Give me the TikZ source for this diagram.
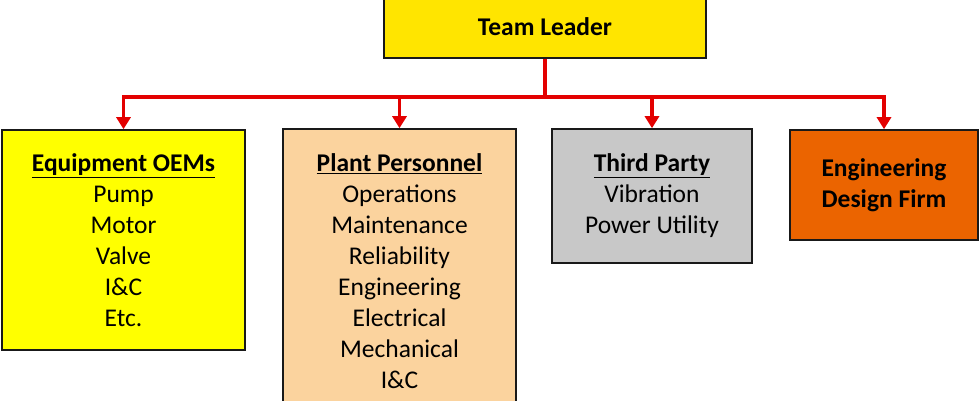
\documentclass[tikz,border=0pt]{standalone}
\usepackage{fontspec}
\setmainfont{Carlito}
\usepackage{tikz}
\usetikzlibrary{positioning,arrows.meta,calc}
\definecolor{leadfill}{HTML}{FFE500}
\definecolor{oemfill}{HTML}{FFFF00}
\definecolor{staffill}{HTML}{FBD39E}
\definecolor{thirdfill}{HTML}{C8C8C8}
\definecolor{firmfill}{HTML}{EB6400}
\definecolor{linkred}{HTML}{E30000}
\newcommand{\grouphead}[1]{\underline{\textbf{#1}}}

\begin{document}
\begin{tikzpicture}[
    x=1pt, y=-1pt,
    box/.style={draw=black!90, line width=1.6pt, align=center, inner sep=0pt, font=\fontsize{25.5}{31}\selectfont},
    link/.style={-{Triangle[length=12pt, width=14pt]}, line width=3.8pt, draw=linkred, line join=miter}
]
    \useasboundingbox (0,0) rectangle (980,400);

    % Leader on top
    \node[box, fill=leadfill, minimum width=322, minimum height=62, font=\fontsize{25.5}{31}\selectfont\bfseries] (lead) at (545,27) {Team Leader};

    % Groups below
    \node[box, fill=oemfill, minimum width=243, minimum height=220] (oem) at (123.5,240)
        {\grouphead{Equipment OEMs}\\Pump\\Motor\\Valve\\I\&C\\Etc.};
    \node[box, fill=staffill, minimum width=233, minimum height=284] (staff) at (399.5,271)
        {\grouphead{Plant Personnel}\\Operations\\Maintenance\\Reliability\\Engineering\\Electrical\\Mechanical\\I\&C};
    \node[box, fill=thirdfill, minimum width=200, minimum height=134] (third) at (652,196)
        {\grouphead{Third Party}\\Vibration\\Power Utility};
    \node[box, fill=firmfill, minimum width=188, minimum height=110, font=\fontsize{25.5}{31}\selectfont\bfseries] (firm) at (884,185)
        {Engineering\\Design Firm};

    % Connections
    \draw[link] (lead.south) -- ++(0,38) -| (oem.north);
    \draw[link] (lead.south) -- ++(0,38) -| (staff.north);
    \draw[link] (lead.south) -- ++(0,38) -| (third.north);
    \draw[link] (lead.south) -- ++(0,38) -| (firm.north);
\end{tikzpicture}
\end{document}
